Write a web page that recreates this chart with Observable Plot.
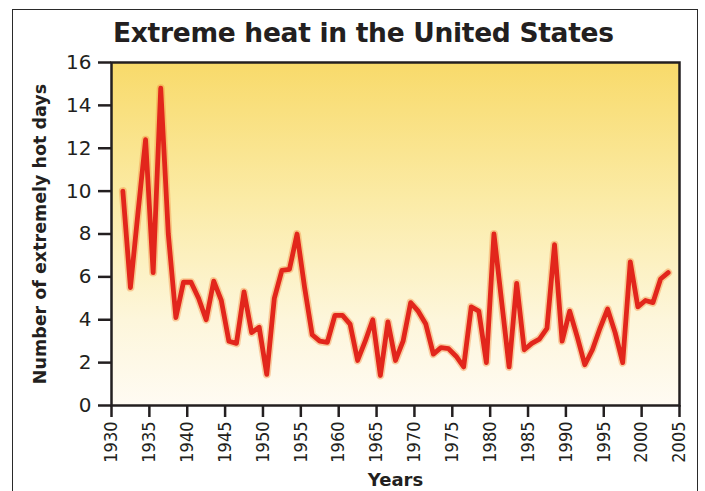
<!DOCTYPE html>
<html>
<head>
<meta charset="utf-8">
<script src="https://cdn.jsdelivr.net/npm/d3@7"></script>
<script src="https://cdn.jsdelivr.net/npm/@observablehq/plot@0.6"></script>
<style>
  html, body { margin: 0; padding: 0; background: #fff; }
  #wrap { position: relative; width: 705px; height: 491px; overflow: hidden; background: #fff; }
  #frame { position: absolute; left: 12px; top: 9px; width: 684px; height: 520px; border: 1.5px solid #2a2a2a; }
  #title { position: absolute; left: 113px; top: 17px; font-family: "DejaVu Sans", sans-serif; font-weight: bold; font-size: 26.5px; color: #231f20; white-space: nowrap; letter-spacing: -0.3px; }
  #chart { position: absolute; left: 0; top: 50px; }
  #chart svg { overflow: visible; }
  g[aria-label="x-axis label"] text { font-family: "DejaVu Sans", sans-serif !important; font-weight: bold !important; font-size: 18px !important; }
  g[aria-label="y-axis label"] text { font-family: "DejaVu Sans", sans-serif !important; font-weight: bold !important; font-size: 17.5px !important; }
  g[aria-label="y-axis tick label"] { font-family: "DejaVu Sans", sans-serif; }
  g[aria-label="x-axis tick label"] { font-family: "DejaVu Sans Condensed", "Liberation Sans", sans-serif; }
</style>
</head>
<body>
<div id="wrap">
  <div id="frame"></div>
  <div id="title">Extreme heat in the United States</div>
  <div id="chart"></div>
</div>
<script>
const years = [
  1931, 1932, 1933, 1934, 1935, 1936, 1937, 1938, 1939, 1940,
  1941, 1942, 1943, 1944, 1945, 1946, 1947, 1948, 1949, 1950,
  1951, 1952, 1953, 1954, 1955, 1956, 1957, 1958, 1959, 1960,
  1961, 1962, 1963, 1964, 1965, 1966, 1967, 1968, 1969, 1970,
  1971, 1972, 1973, 1974, 1975, 1976, 1977, 1978, 1979, 1980,
  1981, 1982, 1983, 1984, 1985, 1986, 1987, 1988, 1989, 1990,
  1991, 1992, 1993, 1994, 1995, 1996, 1997, 1998, 1999, 2000,
  2001, 2002, 2003
];
const hotDays = [
  10.0, 5.5, 9.0, 12.4, 6.2, 14.8, 8.0, 4.1, 5.75, 5.75,
  5.0, 4.0, 5.8, 4.9, 3.0, 2.9, 5.3, 3.4, 3.65, 1.45,
  5.0, 6.3, 6.35, 8.0, 5.5, 3.3, 3.0, 2.95, 4.2, 4.2,
  3.8, 2.1, 3.0, 4.0, 1.4, 3.9, 2.1, 3.0, 4.8, 4.4,
  3.8, 2.4, 2.7, 2.65, 2.3, 1.8, 4.6, 4.4, 2.0, 8.0,
  4.9, 1.8, 5.7, 2.6, 2.9, 3.1, 3.6, 7.5, 3.0, 4.4,
  3.2, 1.9, 2.6, 3.6, 4.5, 3.4, 2.0, 6.7, 4.6, 4.9,
  4.8, 5.9, 6.2
];
const xTicks = d3.range(1930, 2006, 5);
const yTicks = [0, 2, 4, 6, 8, 10, 12, 14, 16];

const data = years.map((y, i) => ({year: y, days: hotDays[i]}));

const chart = Plot.plot({
  width: 705,
  height: 441,
  marginTop: 12,
  marginLeft: 111,
  marginRight: 26,
  marginBottom: 86,
  style: {fontFamily: "Liberation Sans, Arial, sans-serif", color: "#231f20", background: "transparent"},
  x: {domain: [1930, 2005]},
  y: {domain: [0, 16]},
  marks: [
    Plot.frame({fill: "url(#heatGrad)", stroke: null}),
    Plot.line(data, {x: d => d.year + 0.5, y: "days", stroke: "#f38a3a", strokeWidth: 8, strokeOpacity: 0.4, strokeLinejoin: "round"}),
    Plot.line(data, {x: d => d.year + 0.5, y: "days", stroke: "#e2261c", strokeWidth: 4.8, strokeLinejoin: "round"}),
    Plot.frame({stroke: "#231f20", strokeWidth: 2.5}),
    Plot.axisY({ticks: yTicks, fontSize: 20, tickSize: 13, tickPadding: 7, strokeWidth: 2.5, label: "Number of extremely hot days", labelAnchor: "center", labelArrow: "none", labelOffset: 78}),
    Plot.axisX({ticks: xTicks, fontSize: 18, tickFormat: d => String(d), tickSize: 12, tickPadding: 4, tickRotate: -90, strokeWidth: 2.5, label: "Years", labelAnchor: "center", labelArrow: "none", labelOffset: 80})
  ]
});

const defs = d3.create("svg:defs");
const grad = defs.append("linearGradient").attr("id", "heatGrad").attr("x1", 0).attr("y1", 0).attr("x2", 0).attr("y2", 1);
grad.append("stop").attr("offset", "0%").attr("stop-color", "#f8da6a");
grad.append("stop").attr("offset", "40%").attr("stop-color", "#fbeba6");
grad.append("stop").attr("offset", "75%").attr("stop-color", "#fdf6db");
grad.append("stop").attr("offset", "100%").attr("stop-color", "#fffbf3");
chart.insertBefore(defs.node(), chart.firstChild);

document.getElementById("chart").appendChild(chart);
</script>
</body>
</html>
